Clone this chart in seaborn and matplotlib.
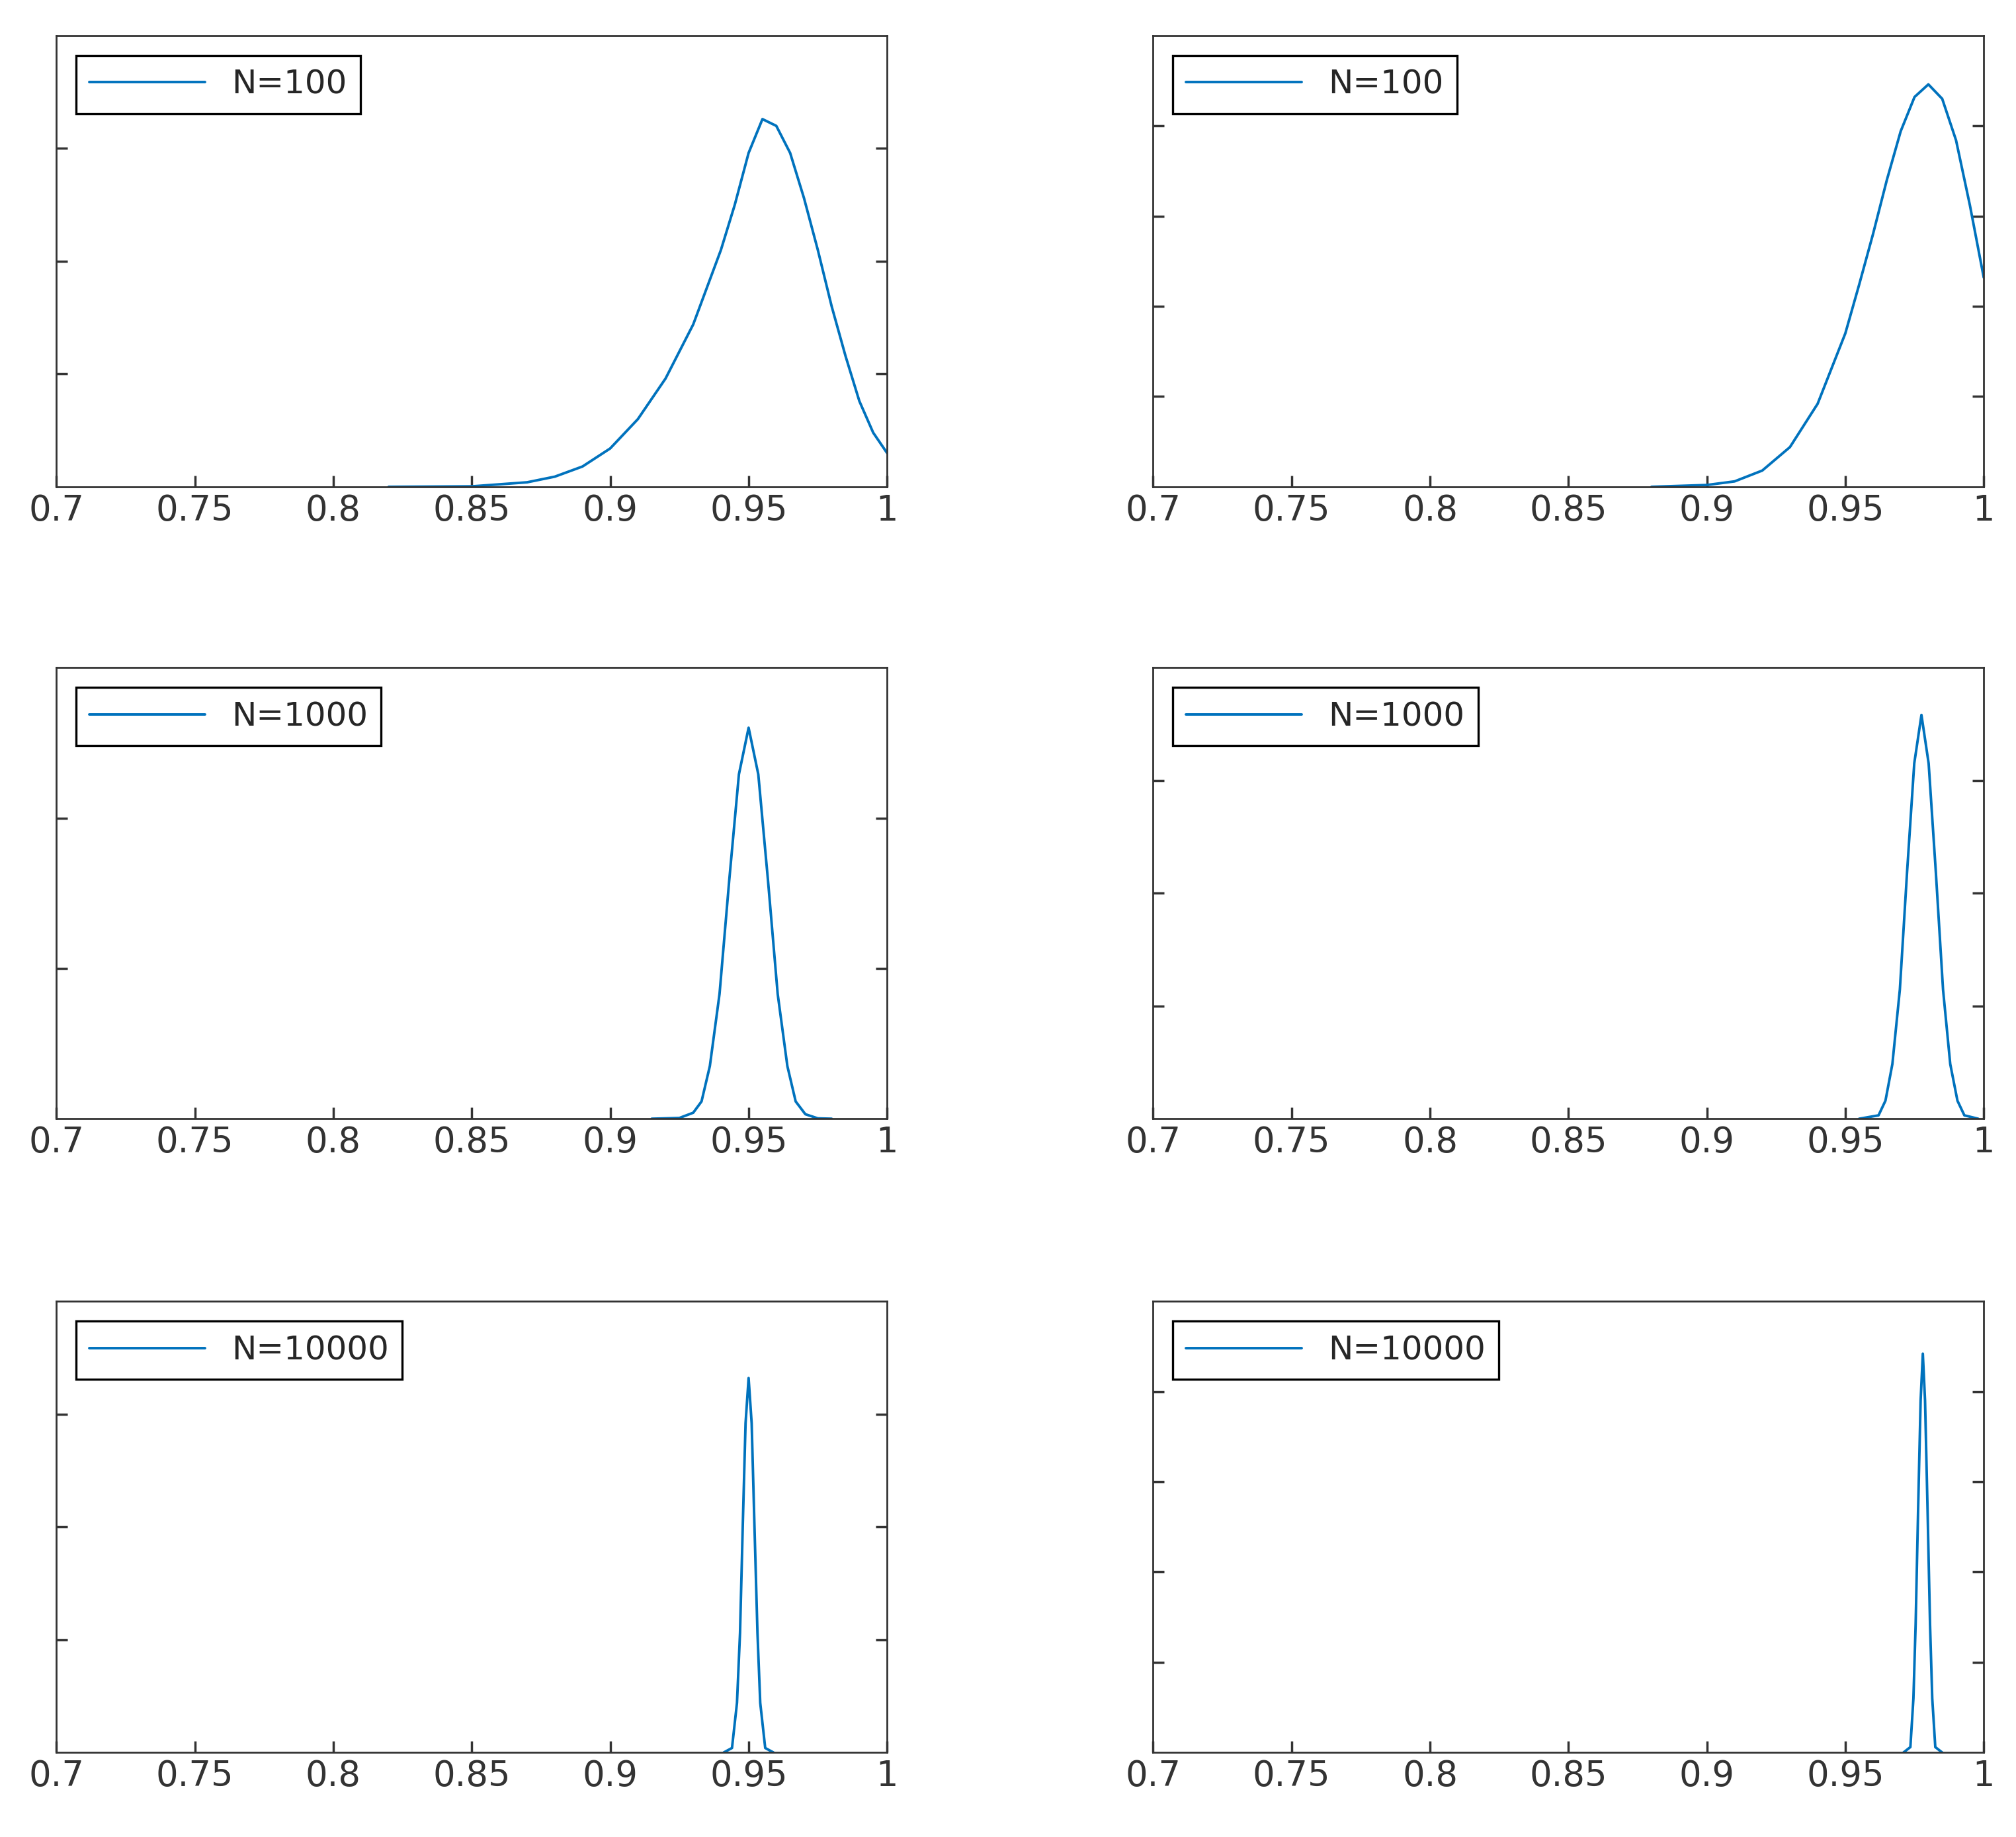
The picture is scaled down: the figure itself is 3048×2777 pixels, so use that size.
import matplotlib
matplotlib.use("Agg")
import matplotlib.pyplot as plt
import seaborn as sns

sns.set_theme(style="white")
plt.rcParams['font.family'] = ['DejaVu Sans']

labels = ["N=100", "N=100", "N=1000", "N=1000", "N=10000", "N=10000"]

x_tl = [0.82, 0.85, 0.87, 0.88, 0.89, 0.90, 0.91, 0.92, 0.93, 0.94, 0.945, 0.95, 0.955, 0.96, 0.965, 0.97, 0.975, 0.98, 0.985, 0.99, 0.995, 1.0]
y_tl = [0, 0.02, 0.2, 0.45, 0.9, 1.7, 3.0, 4.8, 7.2, 10.5, 12.5, 14.8, 16.3, 16.0, 14.8, 12.8, 10.5, 8.0, 5.8, 3.8, 2.4, 1.5]

x_tr = [0.88, 0.90, 0.91, 0.92, 0.93, 0.94, 0.95, 0.955, 0.96, 0.965, 0.97, 0.975, 0.98, 0.985, 0.99, 0.995, 1.0]
y_tr = [0, 0.1, 0.3, 0.9, 2.2, 4.6, 8.5, 11.2, 14.0, 17.0, 19.7, 21.6, 22.3, 21.5, 19.2, 15.6, 11.6]

x_ml = [0.915, 0.925, 0.93, 0.933, 0.936, 0.9395, 0.943, 0.9465, 0.95, 0.9535, 0.957, 0.9605, 0.964, 0.967, 0.9705, 0.975, 0.98]
y_ml = [0, 0.1, 0.8, 2.3, 7, 16.6, 31.7, 45.8, 52, 45.8, 31.7, 16.6, 7, 2.3, 0.6, 0.05, 0]

x_mr = [0.955, 0.962, 0.9645, 0.967, 0.9697, 0.9723, 0.9749, 0.9775, 0.9801, 0.9827, 0.9853, 0.9879, 0.9905, 0.993, 0.998]
y_mr = [0, 0.6, 3.2, 9.7, 22.9, 43.7, 63, 71.6, 63, 43.7, 22.9, 9.7, 3.2, 0.6, 0]

x_bl = [0.941, 0.944, 0.9458, 0.9469, 0.9479, 0.9489, 0.95, 0.9511, 0.9521, 0.9532, 0.9542, 0.956, 0.959]
y_bl = [0, 2, 22, 53, 101, 146, 166, 146, 101, 53, 22, 2, 0]

x_br = [0.971, 0.9735, 0.9746, 0.9754, 0.9763, 0.9772, 0.978, 0.9788, 0.9797, 0.9806, 0.9814, 0.9825, 0.985]
y_br = [0, 3, 30, 71, 135, 195, 221, 195, 135, 71, 30, 3, 0]

series = [(x_tl, y_tl), (x_tr, y_tr), (x_ml, y_ml), (x_mr, y_mr), (x_bl, y_bl), (x_br, y_br)]
ylims = [20, 25, 60, 80, 200, 250]
ysteps = [5, 5, 20, 20, 50, 50]
xticks = [0.7, 0.75, 0.8, 0.85, 0.9, 0.95, 1.0]
xticklabels = ["0.7", "0.75", "0.8", "0.85", "0.9", "0.95", "1"]

fig = plt.figure(figsize=(15.24, 13.885), dpi=200)
lefts = [0.028, 0.572]
bottoms = [0.735, 0.391, 0.046]
w, h = 0.412, 0.2456
for i, (xs, ys) in enumerate(series):
    r, c = divmod(i, 2)
    ax = fig.add_axes([lefts[c], bottoms[r], w, h])
    sns.lineplot(x=xs, y=ys, ax=ax, color="#0072BD", linewidth=1.4, label=labels[i])
    ax.set_xlim(0.7, 1.0)
    ax.set_ylim(0, ylims[i])
    ax.set_xticks(xticks)
    ax.set_xticklabels(xticklabels, fontsize=19, color="#333333")
    ax.set_yticks(list(range(ysteps[i], ylims[i], ysteps[i])))
    ax.set_yticklabels([])
    ax.tick_params(direction="in", length=6, color="#333333", right=True, left=True, bottom=True, top=False)
    for s in ax.spines.values():
        s.set_color("#333333")
        s.set_linewidth(1.0)
    leg = ax.legend(loc="upper left", fontsize=18, fancybox=False, framealpha=1,
                    handlelength=3.5, borderaxespad=0.6)
    leg.get_frame().set_edgecolor("black")
    leg.get_frame().set_linewidth(1.2)

fig.savefig("out.png", dpi=200)
